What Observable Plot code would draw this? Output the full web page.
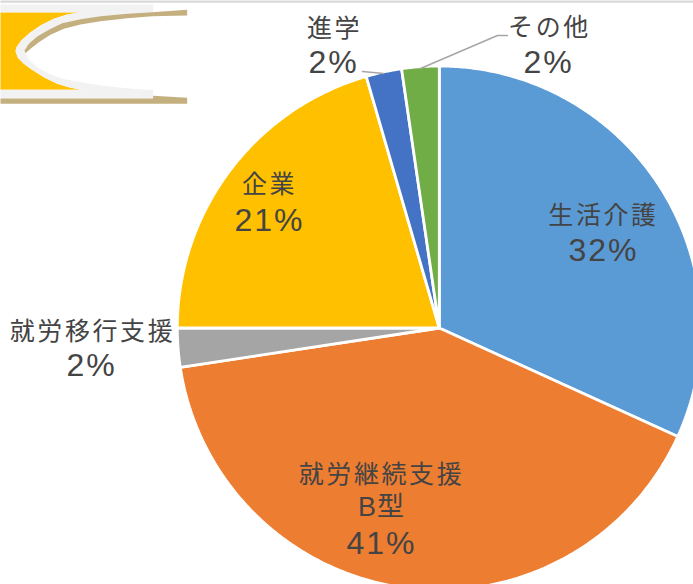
<!DOCTYPE html>
<html><head><meta charset="utf-8">
<style>html,body{margin:0;padding:0;background:#fff;overflow:hidden}svg{display:block}</style>
<script src="https://cdn.jsdelivr.net/npm/d3@7"></script>
<script src="https://cdn.jsdelivr.net/npm/@observablehq/plot@0.6"></script>
</head><body><div id="chart"></div>
<script>
const categories = ["生活介護","就労継続支援B型","就労移行支援","企業","進学","その他"];
const values = [31.8,40.8,2.4,20.5,2.2,2.3];
const sliceColors = ["#5b9bd5","#ed7d31","#a5a5a5","#ffc000","#4472c4","#70ad47"];

const nameLabels = ["生活介護","就労継続支援","就労移行支援","企業","進学","その他"];
const nameX = [603,381,92,269,334,549];
const nameY = [215,474,331,184,28,27];
const subLabels = ["B型"];
const subX = [381];
const subY = [507];
const pctLabels = ["32%","41%","2%","21%","2%","2%"];
const pctX = [603,381,91,269,333,548];
const pctY = [250,543,365,220,62,62];

const cx = 438.8, cy = 327.5, r = 262;
const arcs = d3.pie().sort(null).startAngle(0).endAngle(2*Math.PI)(values);
const slicePts = arcs.flatMap((a,i) => {
  const n = Math.ceil((a.endAngle-a.startAngle)*180/Math.PI*2);
  const pts = [{name:categories[i],px:cx,py:cy}];
  for (let k=0;k<=n;k++){ const t=a.startAngle+(a.endAngle-a.startAngle)*k/n;
    pts.push({name:categories[i],px:cx+r*Math.sin(t),py:cy-r*Math.cos(t)}); }
  return pts;
});

// top-left decoration outlines (traced in 3x zoom units)
const deco = (name, pts) => pts.map(([px,py]) => ({name,px:px/3,py:py/3}));
const outerEdge = [[240,35],[200,42],[160,55],[120,75],[90,95],[62,120],[48,140],[45,152],[52,172],[70,190],[90,205],[130,230],[170,250],[205,260],[240,268]];
const innerEdge = [[458,270],[380,263],[300,255],[240,245],[185,235],[145,220],[110,200],[85,178],[75,158],[72,150],[85,130],[110,108],[145,88],[185,68],[240,56],[300,47],[380,40],[458,35]];
const yellowShape = deco("y",[[0,35],...outerEdge,[0,268]]);
const ribbonShape = deco("r",[...outerEdge,...innerEdge]);
const ribbonTop = deco("rt",[[0,12],[458,12],[458,36],[0,36]]);
const ribbonBottom = deco("rb",[[0,268],[458,268],[458,293],[0,293]]);
const tanTop = deco("tt",[[72,150],[85,130],[110,108],[145,88],[185,68],[240,56],[300,47],[380,40],[455,35],[560,28],[560,45],[455,47],[380,53],[300,62],[240,72],[190,85],[150,103],[115,125],[90,145],[75,158]]);
const tanBottom = deco("tb",[[0,294],[458,294],[458,286],[560,292],[560,310],[0,310]]);
const topBand = deco("band",[[0,0],[2079,0],[2079,7],[0,7]]);
const leaderA = [{px:362,py:71},{px:383,py:73}];
const leaderB = [{px:507,py:35},{px:497,py:35},{px:420,py:68}];

const poly = (data,fill) => Plot.line(data,{x:"px",y:"py",curve:"linear-closed",fill,stroke:"none"});
const rows = (t,x,y) => t.map((text,i)=>({text,x:x[i],y:y[i]}));
const labelFont = "'Liberation Sans','Noto Sans CJK JP',sans-serif";

const plot = Plot.plot({
  width:693,height:584,margin:0,
  x:{domain:[0,693],range:[0,693],axis:null},
  y:{domain:[0,584],range:[0,584],axis:null},
  color:{domain:categories,range:sliceColors},
  style:{background:"#fff"},
  marks:[
    poly(topBand,"#d9d9d9"),
    poly(yellowShape,"#ffc000"),
    poly(ribbonShape,"#f2f2f2"),
    poly(ribbonTop,"#f2f2f2"),
    poly(ribbonBottom,"#f2f2f2"),
    poly(tanTop,"#c4b07f"),
    poly(tanBottom,"#c4b07f"),
    Plot.line(slicePts,{x:"px",y:"py",z:"name",fill:"name",stroke:"#fff",strokeWidth:2.8,curve:"linear-closed",strokeLinejoin:"miter"}),
    Plot.line(leaderA,{x:"px",y:"py",stroke:"#a6a6a6",strokeWidth:1.5}),
    Plot.line(leaderB,{x:"px",y:"py",stroke:"#a6a6a6",strokeWidth:1.5}),
    Plot.text(rows(nameLabels,nameX,nameY),{x:"x",y:"y",text:"text",fill:"#444",fontSize:25,
      fontFamily:labelFont,textAnchor:"middle",lineAnchor:"middle"}),
    Plot.text(rows(subLabels,subX,subY),{x:"x",y:"y",text:"text",fill:"#444",fontSize:27,
      fontFamily:labelFont,textAnchor:"middle",lineAnchor:"middle"}),
    Plot.text(rows(pctLabels,pctX,pctY),{x:"x",y:"y",text:"text",fill:"#444",fontSize:32,
      fontFamily:"'Liberation Sans',sans-serif",textAnchor:"middle",lineAnchor:"middle"})
  ]
});
document.getElementById("chart").append(plot);
d3.select(plot).selectAll("text").each(function(){
  const t = this.textContent;
  this.style.letterSpacing = /^[\d%]+$/.test(t) ? "2px" : t === "B型" ? "1px" : "2.6px";
});
</script></body></html>
